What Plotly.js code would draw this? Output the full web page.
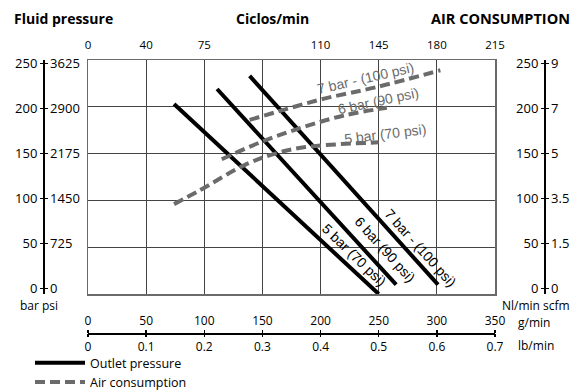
<!DOCTYPE html>
<html>
<head>
<meta charset="utf-8">
<script src="https://cdn.plot.ly/plotly-3.0.1.min.js"></script>
<style>
  html, body { margin: 0; padding: 0; background: #fff; }
  #chart { width: 588px; height: 392px; }
</style>
</head>
<body>
<div id="chart"></div>
<script>
// ---- Data (x in g/min, y in bar for outlet pressure / Nl/min for air consumption) ----
const outletX_5bar = [74, 250];
const outletY_5bar = [203, 0];
const outletX_6bar = [111, 265];
const outletY_6bar = [219, 10];
const outletX_7bar = [139, 301];
const outletY_7bar = [233, 10];

const airX_5bar = [74, 95, 135, 161, 187, 250];
const airY_5bar = [96, 110, 138, 150, 157, 162];
const airX_6bar = [115, 152, 187, 221, 257];
const airY_6bar = [144, 164, 179, 191, 199];
const airX_7bar = [139, 169, 204, 248, 303];
const airY_7bar = [186, 197, 209, 221, 239];

// ---- Tick labels ----
const gminTicks = [0, 50, 100, 150, 200, 250, 300, 350];
const gminText = ['0', '50', '100', '150', '200', '250', '300', '350'];
const lbminText = ['0', '0.1', '0.2', '0.3', '0.4', '0.5', '0.6', '0.7'];
const ciclosTickVals = [0, 50, 100, 200, 250, 300, 350];
const ciclosText = ['0', '40', '75', '110', '145', '180', '215'];
const barTicks = [0, 50, 100, 150, 200, 250];
const barText = ['0', '50', '100', '150', '200', '250'];
const psiText = ['0', '725', '1450', '2175', '2900', '3625'];
const nlminText = ['0', '50', '100', '150', '200', '250'];
const scfmText = ['0', '1.5', '3.5', '5', '7', '9'];

const FONT = 'Open Sans, sans-serif';
const W = 588, H = 392;
const px = v => v / W;
const py = v => (H - v) / H;

const solidLine = {color: '#000', width: 4};
const dashLine = {color: '#6b6b6b', width: 4, dash: '10px,5px', shape: 'spline'};

const traces = [
  {x: outletX_5bar, y: outletY_5bar, mode: 'lines', line: solidLine, name: 'Outlet pressure', legendgroup: 'o', showlegend: true},
  {x: outletX_6bar, y: outletY_6bar, mode: 'lines', line: solidLine, name: 'Outlet pressure', legendgroup: 'o', showlegend: false},
  {x: outletX_7bar, y: outletY_7bar, mode: 'lines', line: solidLine, name: 'Outlet pressure', legendgroup: 'o', showlegend: false},
  {x: airX_5bar, y: airY_5bar, mode: 'lines', line: dashLine, name: 'Air consumption', legendgroup: 'a', showlegend: true},
  {x: airX_6bar, y: airY_6bar, mode: 'lines', line: dashLine, name: 'Air consumption', legendgroup: 'a', showlegend: false},
  {x: airX_7bar, y: airY_7bar, mode: 'lines', line: dashLine, name: 'Air consumption', legendgroup: 'a', showlegend: false}
];

const sideAxis = (pos, side, vals, text) => ({
  overlaying: 'y', anchor: 'free', position: pos, side: side,
  range: [-6, 254], tickvals: vals, ticktext: text,
  showgrid: false, zeroline: false, showline: true, linecolor: '#000', linewidth: 1.5,
  ticks: 'outside', ticklen: 3, tickcolor: '#000', tickwidth: 1.5,
  tickfont: {family: FONT, size: 13, color: '#000'}, fixedrange: true
});

const labelFont = (c, s) => ({family: 'Liberation Sans, Arial, sans-serif', size: s, color: c});

const annotations = [
  {xref: 'paper', yref: 'paper', x: px(12), y: py(18), xanchor: 'left', yanchor: 'middle', text: '<b>Fluid pressure</b>', showarrow: false, font: {family: FONT, size: 14, color: '#000'}},
  {xref: 'paper', yref: 'paper', x: px(272), y: py(18), xanchor: 'center', yanchor: 'middle', text: '<b>Ciclos/min</b>', showarrow: false, font: {family: FONT, size: 14, color: '#000'}},
  {xref: 'paper', yref: 'paper', x: px(572), y: py(18), xanchor: 'right', yanchor: 'middle', text: '<b>AIR CONSUMPTION</b>', showarrow: false, font: {family: FONT, size: 14.5, color: '#000'}},
  {xref: 'paper', yref: 'paper', x: px(39), y: py(305), xanchor: 'center', yanchor: 'middle', text: 'bar psi', showarrow: false, font: {family: FONT, size: 12, color: '#000'}},
  {xref: 'paper', yref: 'paper', x: px(536), y: py(305), xanchor: 'center', yanchor: 'middle', text: 'Nl/min scfm', showarrow: false, font: {family: FONT, size: 12, color: '#000'}},
  {xref: 'paper', yref: 'paper', x: px(516), y: py(322), xanchor: 'left', yanchor: 'middle', text: 'g/min', showarrow: false, font: {family: FONT, size: 12, color: '#000'}},
  {xref: 'paper', yref: 'paper', x: px(516), y: py(345), xanchor: 'left', yanchor: 'middle', text: 'lb/min', showarrow: false, font: {family: FONT, size: 12, color: '#000'}},
  // curve labels
  {xref: 'x', yref: 'y', x: 239, y: 231, text: '7 bar - (100 psi)', textangle: -13, showarrow: false, font: labelFont('#6b6b6b', 14)},
  {xref: 'x', yref: 'y', x: 249, y: 206, text: '6 bar (90 psi)', textangle: -12, showarrow: false, font: labelFont('#6b6b6b', 14)},
  {xref: 'x', yref: 'y', x: 255, y: 171, text: '5 bar (70 psi)', textangle: -7, showarrow: false, font: labelFont('#6b6b6b', 14)},
  {xref: 'x', yref: 'y', x: 229, y: 42, text: '5 bar (70 psi)', textangle: 44, showarrow: false, font: labelFont('#000', 14)},
  {xref: 'x', yref: 'y', x: 255, y: 48, text: '6 bar (90 psi)', textangle: 48, showarrow: false, font: labelFont('#000', 14)},
  {xref: 'x', yref: 'y', x: 286, y: 49, text: '7 bar - (100 psi)', textangle: 48, showarrow: false, font: labelFont('#000', 14)}
];

const layout = {
  width: W, height: H,
  margin: {l: 0, r: 0, t: 0, b: 0, autoexpand: false},
  paper_bgcolor: '#fff', plot_bgcolor: '#fff',
  font: {family: FONT, color: '#000'},
  showlegend: true,
  legend: {
    x: px(30), y: py(348), xanchor: 'left', yanchor: 'top',
    bgcolor: 'rgba(0,0,0,0)', itemwidth: 50, tracegroupgap: 0,
    font: {family: FONT, size: 12.5, color: '#000'}
  },
  xaxis: {
    domain: [px(88), px(495)], range: [0, 350], tickvals: gminTicks,
    showticklabels: false, ticks: '', showgrid: true, gridcolor: '#444', gridwidth: 1,
    zeroline: false, showline: true, mirror: true, linecolor: '#6a6a6a', linewidth: 1.5, fixedrange: true
  },
  yaxis: {
    domain: [py(294), py(60)], range: [0, 250], tickvals: barTicks,
    showticklabels: false, ticks: '', showgrid: true, gridcolor: '#444', gridwidth: 1,
    zeroline: false, showline: true, mirror: true, linecolor: '#6a6a6a', linewidth: 1.5, fixedrange: true
  },
  xaxis2: {
    overlaying: 'x', anchor: 'free', position: py(51), side: 'top', range: [0, 350],
    tickvals: ciclosTickVals, ticktext: ciclosText, showgrid: false, zeroline: false,
    showline: false, ticks: '', tickfont: {family: FONT, size: 11.5, color: '#000'}, fixedrange: true
  },
  xaxis3: {
    overlaying: 'x', anchor: 'free', position: py(333), side: 'top', range: [0, 350],
    tickvals: gminTicks, ticktext: gminText, showgrid: false, zeroline: false,
    showline: true, linecolor: '#000', linewidth: 1.5,
    ticks: 'outside', ticklen: 3, tickcolor: '#000', tickwidth: 1.5,
    tickfont: {family: FONT, size: 12, color: '#000'}, fixedrange: true
  },
  xaxis4: {
    overlaying: 'x', anchor: 'free', position: py(333), side: 'bottom', range: [0, 350],
    tickvals: gminTicks, ticktext: lbminText, showgrid: false, zeroline: false,
    showline: false, ticks: 'outside', ticklen: 3, tickcolor: '#000', tickwidth: 1.5,
    tickfont: {family: FONT, size: 12, color: '#000'}, fixedrange: true
  },
  yaxis2: sideAxis(px(43), 'left', barTicks, barText),
  yaxis3: sideAxis(px(43), 'right', barTicks, psiText),
  yaxis4: sideAxis(px(544), 'left', barTicks, nlminText),
  yaxis5: sideAxis(px(544), 'right', barTicks, scfmText),
  annotations: annotations
};

// invisible holder traces so the overlay axes are drawn
const axisHolders = [
  {x: [null], y: [null], xaxis: 'x2', yaxis: 'y', showlegend: false, hoverinfo: 'skip'},
  {x: [null], y: [null], xaxis: 'x3', yaxis: 'y', showlegend: false, hoverinfo: 'skip'},
  {x: [null], y: [null], xaxis: 'x4', yaxis: 'y', showlegend: false, hoverinfo: 'skip'},
  {x: [null], y: [null], xaxis: 'x', yaxis: 'y2', showlegend: false, hoverinfo: 'skip'},
  {x: [null], y: [null], xaxis: 'x', yaxis: 'y3', showlegend: false, hoverinfo: 'skip'},
  {x: [null], y: [null], xaxis: 'x', yaxis: 'y4', showlegend: false, hoverinfo: 'skip'},
  {x: [null], y: [null], xaxis: 'x', yaxis: 'y5', showlegend: false, hoverinfo: 'skip'}
];

Plotly.newPlot('chart', axisHolders.concat(traces), layout, {displayModeBar: false, staticPlot: true});
</script>
</body>
</html>
